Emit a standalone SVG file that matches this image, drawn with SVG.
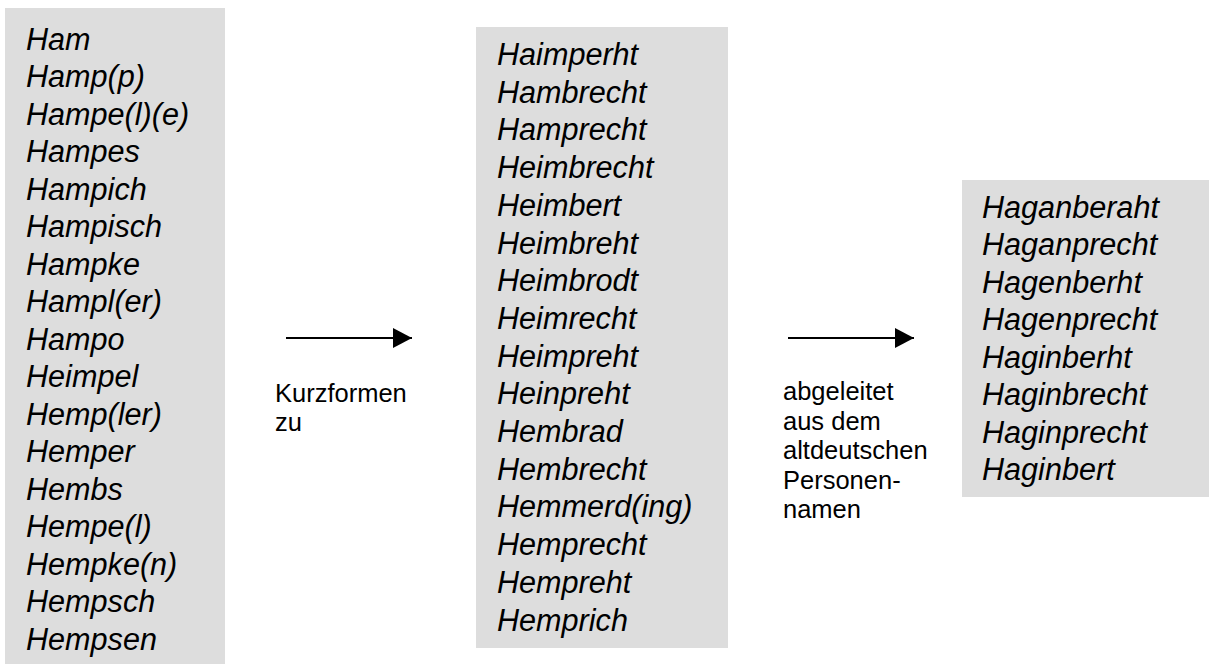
<svg xmlns="http://www.w3.org/2000/svg" width="1209" height="664" viewBox="0 0 1209 664">
  <style>
    .box { fill: #dddddd; }
    .name { font-family: "Liberation Sans", Arial, sans-serif; font-style: italic; font-size: 30.6px; fill: #000; }
    .label { font-family: "Liberation Sans", Arial, sans-serif; font-size: 25.5px; fill: #000; }
    .conn { stroke: #000; stroke-width: 2; fill: none; }
  </style>
  <defs>
    <marker id="arrowhead" markerWidth="19" markerHeight="20" refX="19" refY="10" orient="auto" markerUnits="userSpaceOnUse" viewBox="0 0 19 20">
      <path d="M0,0 L19,10 L0,20 Z" fill="#000"/>
    </marker>
  </defs>

  <!-- short forms -->
  <g id="kurzformen">
    <rect class="box" x="5" y="8" width="220" height="670"/>
    <text class="name">
      <tspan x="26" y="49.5">Ham</tspan>
      <tspan x="26" y="87">Hamp(p)</tspan>
      <tspan x="26" y="124.5">Hampe(l)(e)</tspan>
      <tspan x="26" y="162">Hampes</tspan>
      <tspan x="26" y="199.5">Hampich</tspan>
      <tspan x="26" y="237">Hampisch</tspan>
      <tspan x="26" y="274.5">Hampke</tspan>
      <tspan x="26" y="312">Hampl(er)</tspan>
      <tspan x="26" y="349.5">Hampo</tspan>
      <tspan x="26" y="387">Heimpel</tspan>
      <tspan x="26" y="424.5">Hemp(ler)</tspan>
      <tspan x="26" y="462">Hemper</tspan>
      <tspan x="26" y="499.5">Hembs</tspan>
      <tspan x="26" y="537">Hempe(l)</tspan>
      <tspan x="26" y="574.5">Hempke(n)</tspan>
      <tspan x="26" y="612">Hempsch</tspan>
      <tspan x="26" y="649.5">Hempsen</tspan>
    </text>
  </g>

  <!-- full names -->
  <g id="vollformen">
    <rect class="box" x="476" y="27" width="252" height="621"/>
    <text class="name">
      <tspan x="497" y="65">Haimperht</tspan>
      <tspan x="497" y="102.7">Hambrecht</tspan>
      <tspan x="497" y="140.4">Hamprecht</tspan>
      <tspan x="497" y="178.1">Heimbrecht</tspan>
      <tspan x="497" y="215.8">Heimbert</tspan>
      <tspan x="497" y="253.5">Heimbreht</tspan>
      <tspan x="497" y="291.2">Heimbrodt</tspan>
      <tspan x="497" y="328.9">Heimrecht</tspan>
      <tspan x="497" y="366.6">Heimpreht</tspan>
      <tspan x="497" y="404.3">Heinpreht</tspan>
      <tspan x="497" y="442">Hembrad</tspan>
      <tspan x="497" y="479.7">Hembrecht</tspan>
      <tspan x="497" y="517.4">Hemmerd(ing)</tspan>
      <tspan x="497" y="555.1">Hemprecht</tspan>
      <tspan x="497" y="592.8">Hempreht</tspan>
      <tspan x="497" y="630.5">Hemprich</tspan>
    </text>
  </g>

  <!-- old German personal names -->
  <g id="altdeutsch">
    <rect class="box" x="962" y="180" width="260" height="317"/>
    <text class="name">
      <tspan x="982" y="217.5">Haganberaht</tspan>
      <tspan x="982" y="255">Haganprecht</tspan>
      <tspan x="982" y="292.5">Hagenberht</tspan>
      <tspan x="982" y="330">Hagenprecht</tspan>
      <tspan x="982" y="367.5">Haginberht</tspan>
      <tspan x="982" y="405">Haginbrecht</tspan>
      <tspan x="982" y="442.5">Haginprecht</tspan>
      <tspan x="982" y="480">Haginbert</tspan>
    </text>
  </g>

  <!-- connectors -->
  <g id="connectors">
    <line class="conn" x1="286" y1="338" x2="412" y2="338" marker-end="url(#arrowhead)"/>
    <text class="label">
      <tspan x="275" y="402">Kurzformen</tspan>
      <tspan x="275" y="431">zu</tspan>
    </text>
    <line class="conn" x1="788" y1="338" x2="914" y2="338" marker-end="url(#arrowhead)"/>
    <text class="label">
      <tspan x="783" y="400">abgeleitet</tspan>
      <tspan x="783" y="429.5">aus dem</tspan>
      <tspan x="783" y="459">altdeutschen</tspan>
      <tspan x="783" y="488.5">Personen-</tspan>
      <tspan x="783" y="518">namen</tspan>
    </text>
  </g>
</svg>
